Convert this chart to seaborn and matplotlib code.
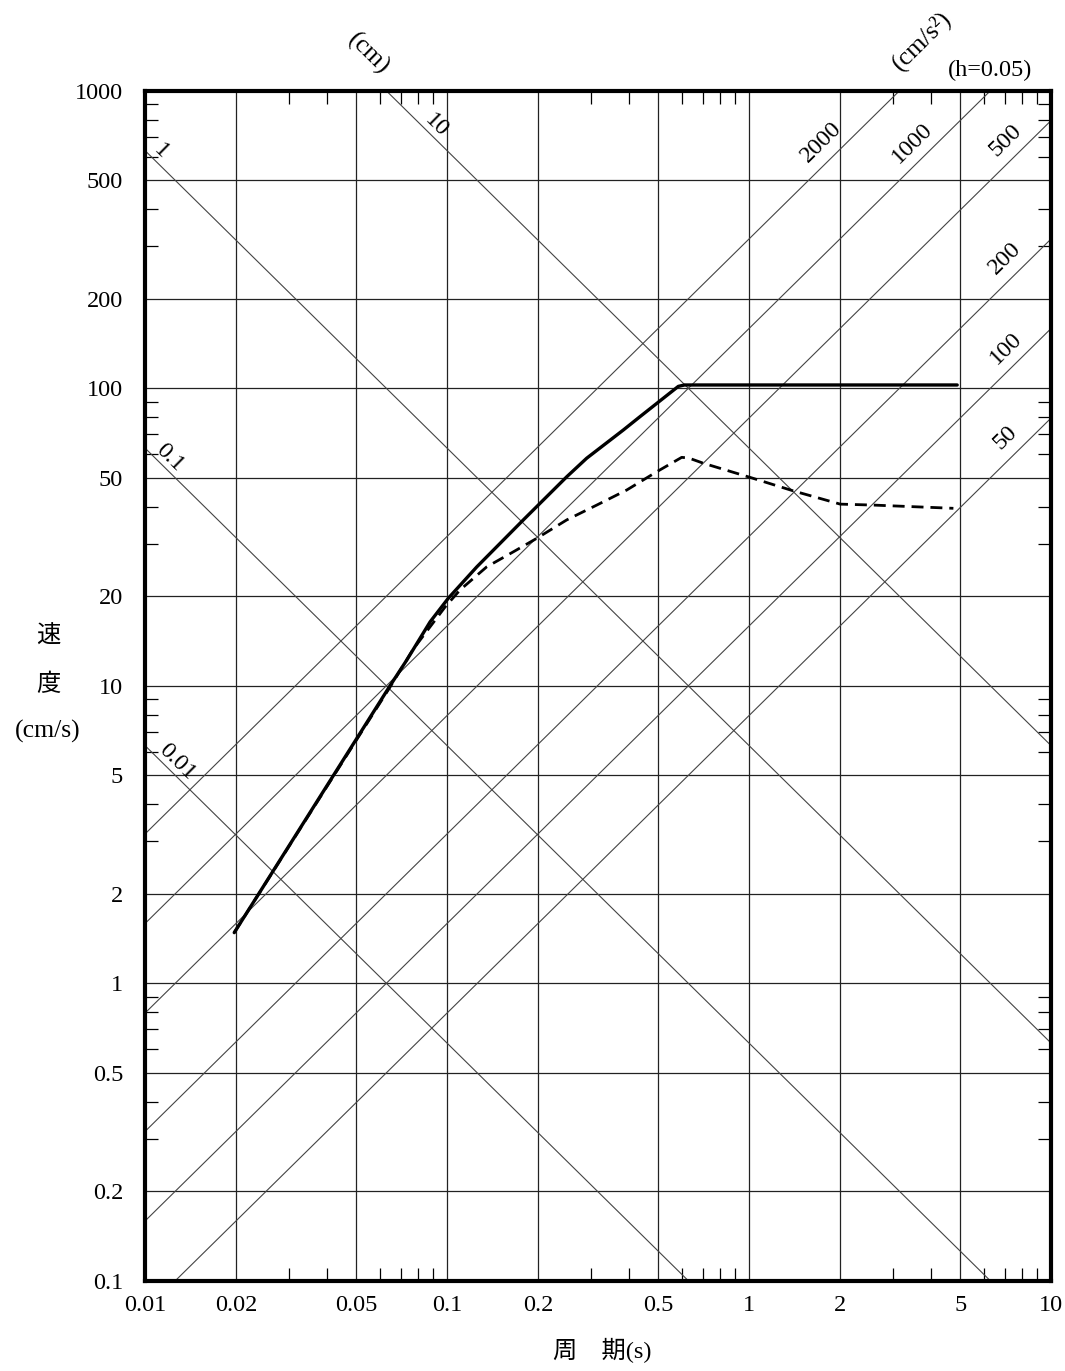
import numpy as np
import pandas as pd
import matplotlib
matplotlib.use("Agg")
import matplotlib.pyplot as plt
import seaborn as sns
from matplotlib.ticker import FixedLocator, FixedFormatter, NullFormatter

# ---------------- data ----------------
T_solid = [0.0197, 0.0646, 0.0734, 0.0877, 0.1008, 0.1252, 0.1785, 0.2485,
           0.2894, 0.3826, 0.4346, 0.582, 0.61, 4.88]
Sv_solid = [1.48, 10.0, 12.2, 16.4, 19.7, 25.1, 36.1, 50.4,
            58.2, 72.4, 80.3, 101.5, 102.6, 102.6]

T_dash = [0.0197, 0.0646, 0.0772, 0.0983, 0.1102, 0.135, 0.1654, 0.1977,
          0.2485, 0.3125, 0.3927, 0.4935, 0.5973, 0.63, 0.704, 1.005,
          1.399, 2.0, 2.574, 4.74]
Sv_dash = [1.48, 9.9, 13.3, 18.4, 21.0, 25.1, 28.2, 31.3,
           36.1, 40.5, 45.5, 52.4, 58.6, 58.3, 56.0, 50.2,
           45.2, 40.8, 40.5, 39.5]

disp_lines = [0.01, 0.1, 1, 10]                 # cm
disp_labels = ["0.01", "0.1", "1", "10"]
disp_label_T = [0.01202, 0.01141, 0.01063, 0.0870]

acc_lines = [50, 100, 200, 500, 1000, 2000]     # cm/s^2
acc_labels = ["50", "100", "200", "500", "1000", "2000"]
acc_label_T = [7.76, 7.76, 7.76, 7.76, 3.80, 1.91]

x_ticks = [0.01, 0.02, 0.05, 0.1, 0.2, 0.5, 1, 2, 5, 10]
x_labels = ["0.01", "0.02", "0.05", "0.1", "0.2", "0.5", "1", "2", "5", "10"]
y_ticks = [0.1, 0.2, 0.5, 1, 2, 5, 10, 20, 50, 100, 200, 500, 1000]
y_labels = ["0.1", "0.2", "0.5", "1", "2", "5", "10", "20", "50", "100",
            "200", "500", "1000"]

# ---------------- style ----------------
sns.set_theme(style="white")
plt.rcParams["font.family"] = ["Liberation Serif", "Noto Sans CJK JP"]
plt.rcParams.update({"text.color": "black", "xtick.color": "black",
                     "ytick.color": "black", "axes.edgecolor": "black"})
FS = 17.5

fig = plt.figure(figsize=(10.65, 13.71), dpi=100)
ax = fig.add_axes([145.3 / 1065, 1 - 1280.8 / 1371,
                   (1051.3 - 145.3) / 1065, (1280.8 - 90.8) / 1371])
ax.set_xscale("log")
ax.set_yscale("log")
xmin, xmax, ymin, ymax = 0.01, 10, 0.1, 1000
ax.set_xlim(xmin, xmax)
ax.set_ylim(ymin, ymax)

# grid
for v in x_ticks[1:-1]:
    ax.axvline(v, color="#222222", lw=0.9, zorder=1)
for v in y_ticks[1:-1]:
    ax.axhline(v, color="#222222", lw=0.9, zorder=1)

# tripartite guide lines
Tg = np.logspace(-2.5, 1.5, 200)
for D in disp_lines:
    ax.plot(Tg, 2 * np.pi * D / Tg, color="#444444", lw=0.8, zorder=1)
for A in acc_lines:
    ax.plot(Tg, A * Tg / (2 * np.pi), color="#444444", lw=0.8, zorder=1)

# spectra
df_s = pd.DataFrame({"T": T_solid, "Sv": Sv_solid})
df_d = pd.DataFrame({"T": T_dash, "Sv": Sv_dash})
sns.lineplot(data=df_s, x="T", y="Sv", ax=ax, color="black", lw=2.4,
             sort=False, estimator=None, zorder=3)
sns.lineplot(data=df_d, x="T", y="Sv", ax=ax, color="black", lw=2.0,
             sort=False, estimator=None, zorder=3)
ax.lines[-1].set_dashes((4.3, 2.5))

ax.set_xlim(xmin, xmax)
ax.set_ylim(ymin, ymax)
ax.set_xlabel("")
ax.set_ylabel("")

# ticks
ax.xaxis.set_major_locator(FixedLocator(x_ticks))
ax.xaxis.set_major_formatter(FixedFormatter(x_labels))
ax.yaxis.set_major_locator(FixedLocator(y_ticks))
ax.yaxis.set_major_formatter(FixedFormatter(y_labels))
xminor = [m * 10.0 ** e for e in (-2, -1, 0) for m in (3, 4, 6, 7, 8, 9)]
yminor = [m * 10.0 ** e for e in (-1, 0, 1, 2) for m in (3, 4, 6, 7, 8, 9)]
ax.xaxis.set_minor_locator(FixedLocator(xminor))
ax.yaxis.set_minor_locator(FixedLocator(yminor))
ax.xaxis.set_minor_formatter(NullFormatter())
ax.yaxis.set_minor_formatter(NullFormatter())
ax.tick_params(which="major", length=0, labelsize=FS)
ax.tick_params(axis="x", which="major", pad=10)
ax.tick_params(axis="y", which="major", pad=16)
ax.tick_params(which="minor", direction="in", length=9.4, width=0.9,
               top=True, right=True, bottom=True, left=True)
for s in ax.spines.values():
    s.set_linewidth(3.0)
    s.set_color("black")
    s.set_zorder(5)

# label angles
fig.canvas.draw()
p0 = ax.transData.transform((0.1, 1.0))
p1 = ax.transData.transform((1.0, 0.1))
ang_d = np.degrees(np.arctan2(p1[1] - p0[1], p1[0] - p0[0]))
p2 = ax.transData.transform((1.0, 10.0))
ang_a = np.degrees(np.arctan2(p2[1] - p0[1], p2[0] - p0[0]))

off = 10.5
nd = (-np.sin(np.radians(ang_d)) * off, np.cos(np.radians(ang_d)) * off)
for D, lab, tl in zip(disp_lines, disp_labels, disp_label_T):
    ax.annotate(lab, xy=(tl, 2 * np.pi * D / tl), xytext=nd,
                textcoords="offset pixels", rotation=ang_d,
                rotation_mode="anchor", ha="center", va="center",
                fontsize=FS, zorder=4)
off = 18
na = (-np.sin(np.radians(ang_a)) * off, np.cos(np.radians(ang_a)) * off)
for A, lab, tl in zip(acc_lines, acc_labels, acc_label_T):
    ax.annotate(lab, xy=(tl, A * tl / (2 * np.pi)), xytext=na,
                textcoords="offset pixels", rotation=ang_a,
                rotation_mode="anchor", ha="center", va="center",
                fontsize=FS, zorder=4)

W, H = 1065, 1371
def fx(px):
    return px / W
def fy(py):
    return 1 - py / H

fig.text(fx(368.5), fy(54), "(cm)", rotation=ang_d, rotation_mode="anchor",
         ha="center", va="center", fontsize=FS + 1)
fig.text(fx(922), fy(41), "(cm/s²)", rotation=ang_a, rotation_mode="anchor",
         ha="center", va="center", fontsize=FS + 1)
fig.text(fx(990), fy(70), "(h=0.05)", ha="center", va="center", fontsize=FS)

fig.text(fx(48), fy(636), "速", ha="center", va="center", fontsize=FS,
         family=["Noto Sans CJK JP"])
fig.text(fx(48), fy(684), "度", ha="center", va="center", fontsize=FS,
         family=["Noto Sans CJK JP"])
fig.text(fx(48), fy(731), "(cm/s)", ha="center", va="center", fontsize=FS + 1)
fig.text(fx(602), fy(1350), "周\u3000期(s)", ha="center", va="center",
         fontsize=FS, family=["Liberation Serif", "Noto Sans CJK JP"])

fig.savefig("out.png", dpi=100, facecolor="white")
